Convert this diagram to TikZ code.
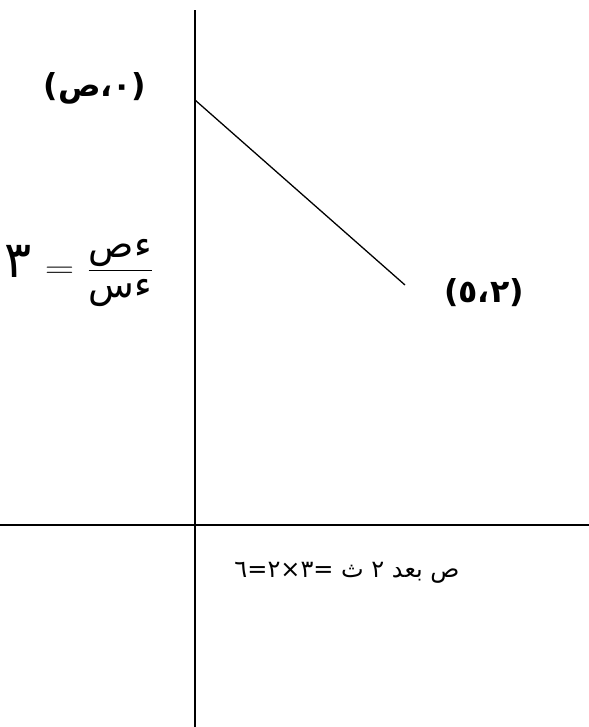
\documentclass[tikz,border=0pt]{standalone}
\usepackage{fontspec}
\usepackage{amsmath}
\usepackage{graphicx}
\newfontfamily\arabicfont[Script=Arabic]{DejaVu Sans}
\TeXXeTstate=1
\usetikzlibrary{calc,positioning}

\begin{document}
\begin{tikzpicture}[x=0.03cm, y=-0.03cm, font=\arabicfont]
		\tikzset{
			axisline/.style={line width=1.6pt},
			graphline/.style={line width=1.1pt},
			pointlbl/.style={font=\arabicfont\bfseries\fontsize{27}{32}\selectfont},
			notelbl/.style={font=\arabicfont\fontsize{20.5}{24}\selectfont}
		}
		\useasboundingbox (0,0) rectangle (589,727);

		% axes
		\coordinate (Ytop) at (195,10);
		\coordinate (Ybot) at (195,727);
		\coordinate (Xleft) at (0,525);
		\coordinate (Xright) at (589,525);
		\draw[axisline] (Ytop) -- (Ybot);
		\draw[axisline] (Xleft) -- (Xright);

		% the line
		\coordinate (P0) at (195,100);
		\coordinate (P1) at (405,285);
		\draw[graphline] (P0) -- (P1);

		\node[pointlbl] (lblP0) at (95,88) {\beginR(٠،ص)\endR};
		\node[pointlbl] (lblP1) at (484,293) {\beginR(٥،٢)\endR};

		\node[font=\fontsize{32}{38}\selectfont] (slope) at (79,273)
			{$\text{\arabicfont\scalebox{1.35}{٣}}\,\mathrel{\scalebox{1.4}[1]{$=$}}\,\dfrac{\text{\arabicfont\beginR ءص\endR}}{\text{\arabicfont\beginR ءس\endR}}$};

		\node[notelbl] (after) at (347,573) {\beginR ص بعد ٢ ث =٣×٢=٦\endR};
	\end{tikzpicture}
\end{document}
